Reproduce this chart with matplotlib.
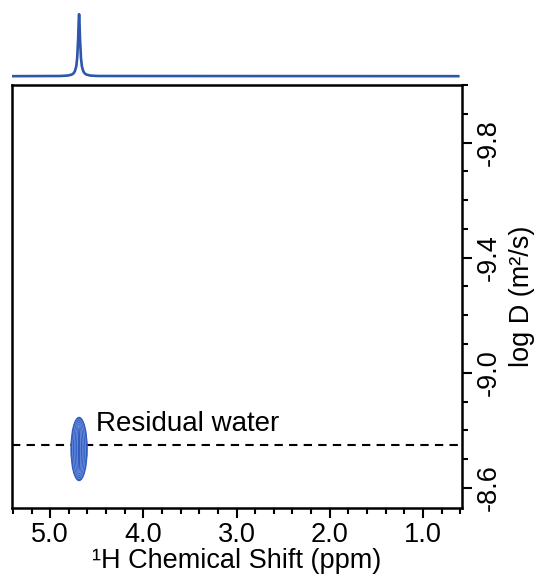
import matplotlib
matplotlib.use("Agg")
import matplotlib.pyplot as plt
from matplotlib.patches import Ellipse
from matplotlib.ticker import MultipleLocator

plt.rcParams['font.family'] = ['Liberation Sans', 'DejaVu Sans']

# 1D projection spectrum (ppm, normalised intensity)
spec_ppm = [5.42, 4.89, 4.81, 4.77, 4.75, 4.735, 4.72, 4.71, 4.70, 4.695, 4.69,
            4.685, 4.68, 4.67, 4.66, 4.645, 4.63, 4.61, 4.57, 4.49, 0.62]
spec_int = [0.0, 0.003, 0.01, 0.025, 0.045, 0.08, 0.16, 0.3, 0.6, 0.85, 1.0,
            0.85, 0.6, 0.3, 0.16, 0.08, 0.045, 0.025, 0.01, 0.003, 0.0]

# DOSY peak
peak_label = "Residual water"
peak_shift = 4.69
peak_logD = -8.735
peak_shift_width = 0.175
peak_logD_height = 0.22
water_logD_line = -8.75

x_ticks = [5.0, 4.0, 3.0, 2.0, 1.0]
y_ticks = [-9.8, -9.4, -9.0, -8.6]
xlim = (5.41, 0.58)
ylim = (-8.53, -10.0)

blue = "#2c57ad"
fill = "#2f5cbf"
light = "#7393e0"

fig = plt.figure(figsize=(5.36, 5.79), dpi=100)
ax = fig.add_axes([12/536, 71/579, 450/536, 423/579])
axt = fig.add_axes([12/536, 497/579, 450/536, 74/579], sharex=ax)

# top spectrum
axt.plot(spec_ppm, spec_int, color=blue, lw=1.9, solid_joinstyle='round')
axt.set_ylim(-0.094, 1.10)
axt.axis('off')

# main panel
ax.set_xlim(*xlim)
ax.set_ylim(*ylim)
for k in [1.0, 0.8, 0.6, 0.4, 0.2]:
    e = Ellipse((peak_shift, peak_logD), peak_shift_width * k, peak_logD_height * (0.7 + 0.3 * k),
                facecolor=fill if k == 1.0 else 'none',
                edgecolor=fill if k == 1.0 else light, lw=0.8 if k == 1.0 else 0.5, zorder=3)
    ax.add_patch(e)
ax.axhline(water_logD_line, color='black', lw=1.5, ls=(0, (4, 3)), zorder=2)
ax.text(peak_shift - 0.18, peak_logD - 0.042, peak_label, fontsize=20,
        ha='left', va='bottom')

ax.set_xticks(x_ticks)
ax.set_xticklabels([f"{v:.1f}" for v in x_ticks])
ax.xaxis.set_minor_locator(MultipleLocator(0.2))
ax.set_yticks(y_ticks)
ax.set_yticklabels([f"{v:.1f}" for v in y_ticks], rotation=90, va='center')
ax.yaxis.set_minor_locator(MultipleLocator(0.1))
ax.yaxis.tick_right()
ax.yaxis.set_label_position('right')
ax.tick_params(axis='both', which='major', length=7, width=1.5, labelsize=19.5, direction='out')
ax.tick_params(axis='both', which='minor', length=4, width=1.5, direction='out')
ax.tick_params(axis='x', pad=3)
ax.tick_params(axis='y', pad=3)
for s in ax.spines.values():
    s.set_linewidth(1.8)

ax.set_xlabel("¹H Chemical Shift (ppm)", fontsize=19.5, labelpad=0)
ax.set_ylabel("log D (m²/s)", fontsize=19.5, rotation=90, labelpad=5)

fig.savefig("out.png", dpi=100)
